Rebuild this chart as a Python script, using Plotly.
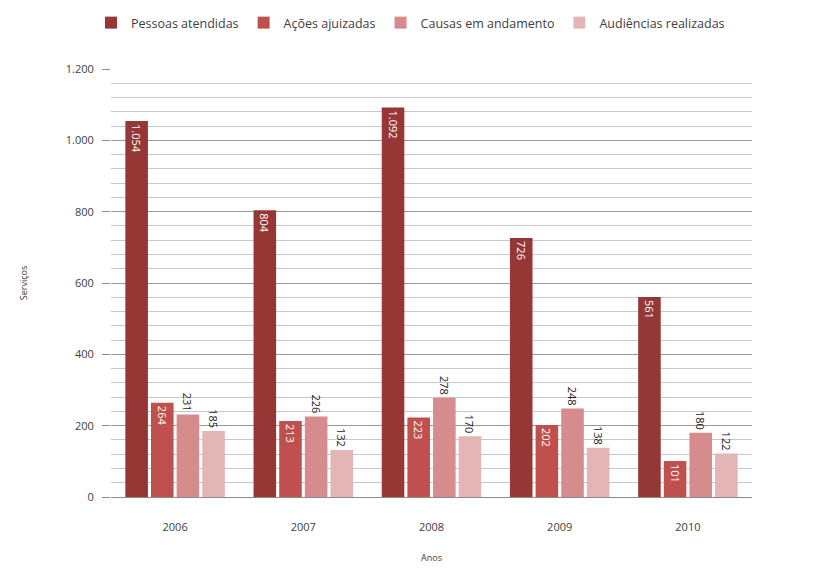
import plotly.graph_objects as go

anos = ["2006", "2007", "2008", "2009", "2010"]
pessoas = [1054, 804, 1092, 726, 561]
acoes = [264, 213, 223, 202, 101]
causas = [231, 226, 278, 248, 180]
audiencias = [185, 132, 170, 138, 122]

series = [
    ("Pessoas atendidas", pessoas, "#953735", "inside"),
    ("Ações ajuizadas", acoes, "#c0504d", "inside"),
    ("Causas em andamento", causas, "#d68b8c", "outside"),
    ("Audiências realizadas", audiencias, "#e3b5b5", "outside"),
]

fig = go.Figure()
for name, vals, color, pos in series:
    fig.add_trace(go.Bar(
        x=anos, y=vals, name=name,
        marker=dict(color=color, line=dict(width=0)),
        text=vals, texttemplate="%{y:,}", textposition=pos,
        insidetextanchor="end", textangle=90,
        insidetextfont=dict(color="white", size=11),
        outsidetextfont=dict(color="#222222", size=11),
        cliponaxis=False,
    ))

fig.update_layout(
    width=805, height=556,
    separators=",.",
    barmode="group", bargap=0.2, bargroupgap=0.12,
    plot_bgcolor="white", paper_bgcolor="white",
    font=dict(family="Open Sans", size=11, color="#404040"),
    margin=dict(l=103, r=61, t=61, b=67, autoexpand=False),
    legend=dict(orientation="h", x=0.5, xanchor="center", xref="container",
                y=1.0, yanchor="top", yref="container",
                font=dict(size=12.5, color="#404040"), itemwidth=30,
                traceorder="normal"),
    xaxis=dict(title=dict(text="Anos", font=dict(size=9, color="#404040"), standoff=23),
               showline=True, linecolor="#8c8c8c", ticks="", showgrid=False,
               ticklabelstandoff=20),
    yaxis=dict(title=dict(text="Serviços", font=dict(size=9, color="#404040"), standoff=36),
               range=[0, 1200], dtick=200, tickformat=",",
               showgrid=True, gridcolor="#9a9a9a", gridwidth=1,
               minor=dict(dtick=40, showgrid=True, gridcolor="#c8c8c8"),
               ticks="outside", ticklen=8, tickcolor="#8c8c8c",
               ticklabelstandoff=6,
               zeroline=False, showline=False),
)

fig.write_html("out.html")
